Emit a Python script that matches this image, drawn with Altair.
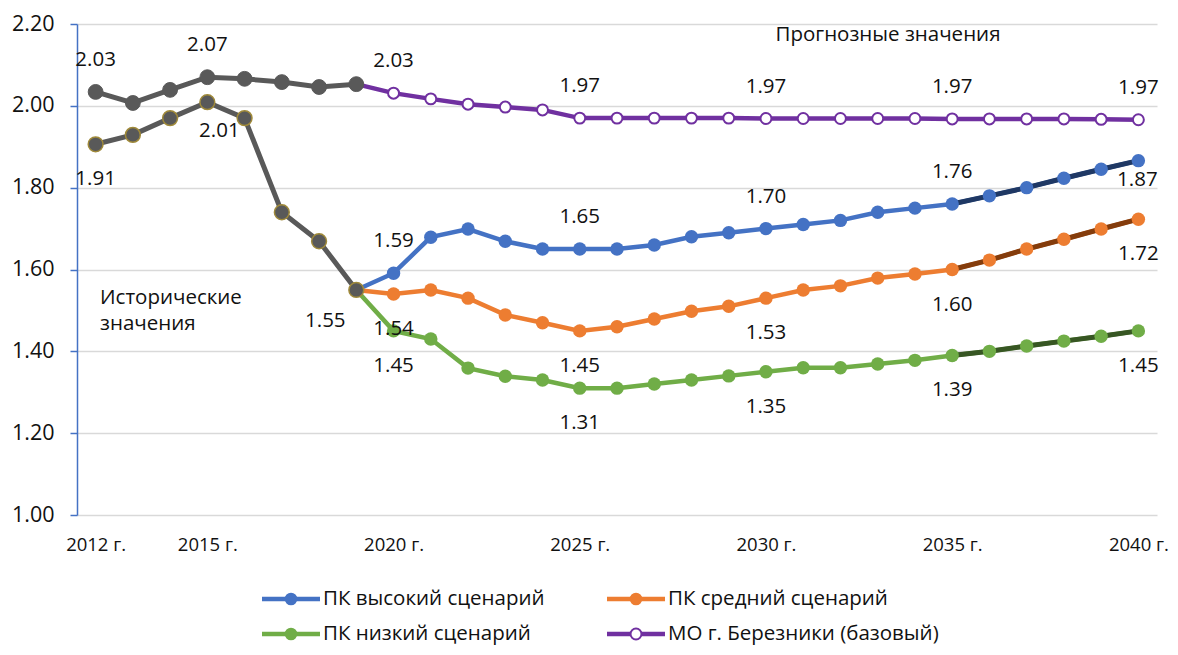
import altair as alt
import pandas as pd

# ---------------- data ----------------
years_hist = list(range(2012, 2020))
mo_hist = [2.034, 2.007, 2.039, 2.07, 2.066, 2.058, 2.046, 2.053]
pk_hist = [1.906, 1.929, 1.97, 2.009, 1.97, 1.74, 1.669, 1.55]

years_fc = list(range(2019, 2041))
mo_base = [2.053, 2.031, 2.017, 2.004, 1.997, 1.99, 1.97, 1.97, 1.97, 1.97, 1.97,
           1.969, 1.969, 1.969, 1.969, 1.969, 1.968, 1.968, 1.968, 1.968, 1.967, 1.966]
pk_high = [1.55, 1.591, 1.679, 1.699, 1.669, 1.65, 1.65, 1.65, 1.66, 1.68, 1.69,
           1.70, 1.71, 1.72, 1.74, 1.75, 1.76, 1.78, 1.80, 1.823, 1.845, 1.866]
pk_mid = [1.55, 1.54, 1.55, 1.53, 1.489, 1.47, 1.45, 1.46, 1.479, 1.498, 1.51,
          1.53, 1.55, 1.56, 1.579, 1.589, 1.60, 1.623, 1.65, 1.674, 1.699, 1.723]
pk_low = [1.55, 1.45, 1.43, 1.359, 1.339, 1.33, 1.31, 1.31, 1.32, 1.33, 1.34,
          1.35, 1.36, 1.36, 1.369, 1.378, 1.39, 1.40, 1.413, 1.425, 1.437, 1.45]
tail_start = 2035

legend_names = ["ПК высокий сценарий", "ПК средний сценарий",
                "ПК низкий сценарий", "МО г. Березники (базовый)"]
x_tick_years = [2012, 2015, 2020, 2025, 2030, 2035, 2040]
y_ticks = [1.0, 1.2, 1.4, 1.6, 1.8, 2.0, 2.2]

labels_above = [("mo_hist", 2012), ("mo_hist", 2015), ("mo", 2020), ("mo", 2025),
                ("mo", 2030), ("mo", 2035), ("mo", 2040), ("high", 2020),
                ("high", 2025), ("high", 2030), ("high", 2035)]
labels_below = [("pk_hist", 2012), ("mid", 2020), ("low", 2020), ("mid", 2025),
                ("low", 2025), ("mid", 2030), ("low", 2030), ("mid", 2035),
                ("low", 2035), ("mid", 2040), ("low", 2040)]

# ---------------- tables ----------------
rows = []
for y, v in zip(years_hist, mo_hist):
    rows.append({"series": "mo_hist", "year": y, "value": v})
for y, v in zip(years_hist, pk_hist):
    rows.append({"series": "pk_hist", "year": y, "value": v})
for name, vals in [("mo", mo_base), ("high", pk_high), ("mid", pk_mid), ("low", pk_low)]:
    for y, v in zip(years_fc, vals):
        rows.append({"series": name, "year": y, "value": v})
df = pd.DataFrame(rows)

hist = df[df.series.isin(["mo_hist", "pk_hist"])]
scen = df[df.series.isin(["high", "mid", "low"])]
mo = df[df.series == "mo"]
tail = scen[scen.year >= tail_start].copy()
tail["series"] = tail["series"] + "_tail"


def pick(pairs):
    keys = pd.DataFrame(pairs, columns=["series", "year"])
    return df.merge(keys, on=["series", "year"])


lab_above = pick(labels_above)
lab_below = pick(labels_below)
lab_pk2015 = pick([("pk_hist", 2015)])
lab_pk2019 = pick([("pk_hist", 2019)])
lab_high2040 = pick([("high", 2040)])

FONT = "Open Sans"
TXT = "#111111"
FS = 20.5

x_enc = alt.X("year:Q", scale=alt.Scale(domain=[2011.5, 2040.5], nice=False, zero=False),
              axis=alt.Axis(values=x_tick_years, labelExpr="datum.value + ' г.'",
                            grid=False, ticks=False, domain=False, labelPadding=20,
                            labelFontSize=18.5, labelFont=FONT, labelColor=TXT, title=None))
y_enc = alt.Y("value:Q", scale=alt.Scale(domain=[1.0, 2.2], nice=False, zero=False),
              axis=alt.Axis(values=y_ticks, format=".2f", grid=True, gridColor="#D9D9D9",
                            gridWidth=1.5, domainColor="#4472C4", domainWidth=1.5,
                            tickColor="#4472C4", tickSize=7, tickWidth=1.5,
                            labelPadding=16, labelFontSize=21.5, labelFont=FONT,
                            labelColor=TXT, title=None))

all_colors = alt.Scale(
    domain=["high", "mid", "low", "high_tail", "mid_tail", "low_tail"],
    range=["#4472C4", "#ED7D31", "#70AD47", "#1F3864", "#843C0C", "#375623"])

mo_line = alt.Chart(mo).mark_line(color="#7030A0", strokeWidth=4.5).encode(x=x_enc, y=y_enc)
scen_line = alt.Chart(scen).mark_line(strokeWidth=4.5).encode(
    x=x_enc, y=y_enc, color=alt.Color("series:N", scale=all_colors, legend=None))
tail_line = alt.Chart(tail).mark_line(strokeWidth=5).encode(
    x=x_enc, y=y_enc, color=alt.Color("series:N", scale=all_colors, legend=None))
scen_pts = alt.Chart(scen[scen.year > 2019]).mark_point(
    filled=True, size=180, opacity=1).encode(
    x=x_enc, y=y_enc, color=alt.Color("series:N", scale=all_colors, legend=None))
mo_pts = alt.Chart(mo[mo.year > 2019]).mark_point(
    shape="circle", filled=True, fill="white", stroke="#7030A0", strokeWidth=2,
    size=120, opacity=1).encode(x=x_enc, y=y_enc)
hist_line = alt.Chart(hist).mark_line(color="#595959", strokeWidth=5).encode(
    x=x_enc, y=y_enc, detail="series:N")
mo_hist_pts = alt.Chart(hist[hist.series == "mo_hist"]).mark_point(
    shape="circle", filled=True, fill="#595959", stroke="#595959", strokeWidth=1,
    size=220, opacity=1).encode(x=x_enc, y=y_enc)
pk_hist_pts = alt.Chart(hist[hist.series == "pk_hist"]).mark_point(
    shape="circle", filled=True, fill="#595959", stroke="#A08A3A", strokeWidth=1.5,
    size=220, opacity=1).encode(x=x_enc, y=y_enc)


def labels(data, dx=0, dy=0):
    return alt.Chart(data).mark_text(font=FONT, fontSize=FS, color=TXT, dx=dx, dy=dy).encode(
        x=x_enc, y=y_enc, text=alt.Text("value:Q", format=".2f"))


txt_layers = [labels(lab_above, dy=-32), labels(lab_below, dy=35),
              labels(lab_pk2015, dx=12, dy=29), labels(lab_pk2019, dx=-31, dy=31),
              labels(lab_high2040, dx=-1, dy=19)]

one = pd.DataFrame({"k": [0]})
notes = [
    alt.Chart(one).mark_text(font=FONT, fontSize=FS, color=TXT).encode(
        x=alt.value(811), y=alt.value(11), text=alt.value("Прогнозные значения")),
    alt.Chart(one).mark_text(font=FONT, fontSize=FS, color=TXT, align="left",
                             baseline="middle", lineHeight=26).encode(
        x=alt.value(23), y=alt.value(274), text=alt.value(["Исторические", "значения"])),
]

leg_colors = ["#4472C4", "#ED7D31", "#70AD47", "#7030A0"]
leg_layers = []
for i, (name, col) in enumerate(zip(legend_names, leg_colors)):
    x0 = [185, 530][i % 2]
    y0 = [575, 610][i // 2]
    leg_layers.append(alt.Chart(one).mark_rule(color=col, strokeWidth=4.5).encode(
        x=alt.value(x0), x2=alt.value(x0 + 58), y=alt.value(y0)))
    if i == 3:
        leg_layers.append(alt.Chart(one).mark_point(
            shape="circle", filled=True, fill="white", stroke=col, strokeWidth=2,
            size=120, opacity=1).encode(x=alt.value(x0 + 29), y=alt.value(y0)))
    else:
        leg_layers.append(alt.Chart(one).mark_point(
            shape="circle", filled=True, color=col, size=160, opacity=1).encode(
            x=alt.value(x0 + 29), y=alt.value(y0)))
    leg_layers.append(alt.Chart(one).mark_text(
        font=FONT, fontSize=FS, color=TXT, align="left", baseline="middle").encode(
        x=alt.value(x0 + 61), y=alt.value(y0), text=alt.value(name)))

chart = alt.layer(
    mo_line, scen_line, tail_line, scen_pts, mo_pts, hist_line, mo_hist_pts, pk_hist_pts,
    *txt_layers, *notes, *leg_layers
).properties(
    width=1080, height=491,
    autosize=alt.AutoSizeParams(type="none"),
    padding={"left": 69, "top": 16, "right": 13, "bottom": 132},
    background="white",
).configure_view(stroke=None)

chart.save("out.html", embed_options={"renderer": "svg", "actions": False})
